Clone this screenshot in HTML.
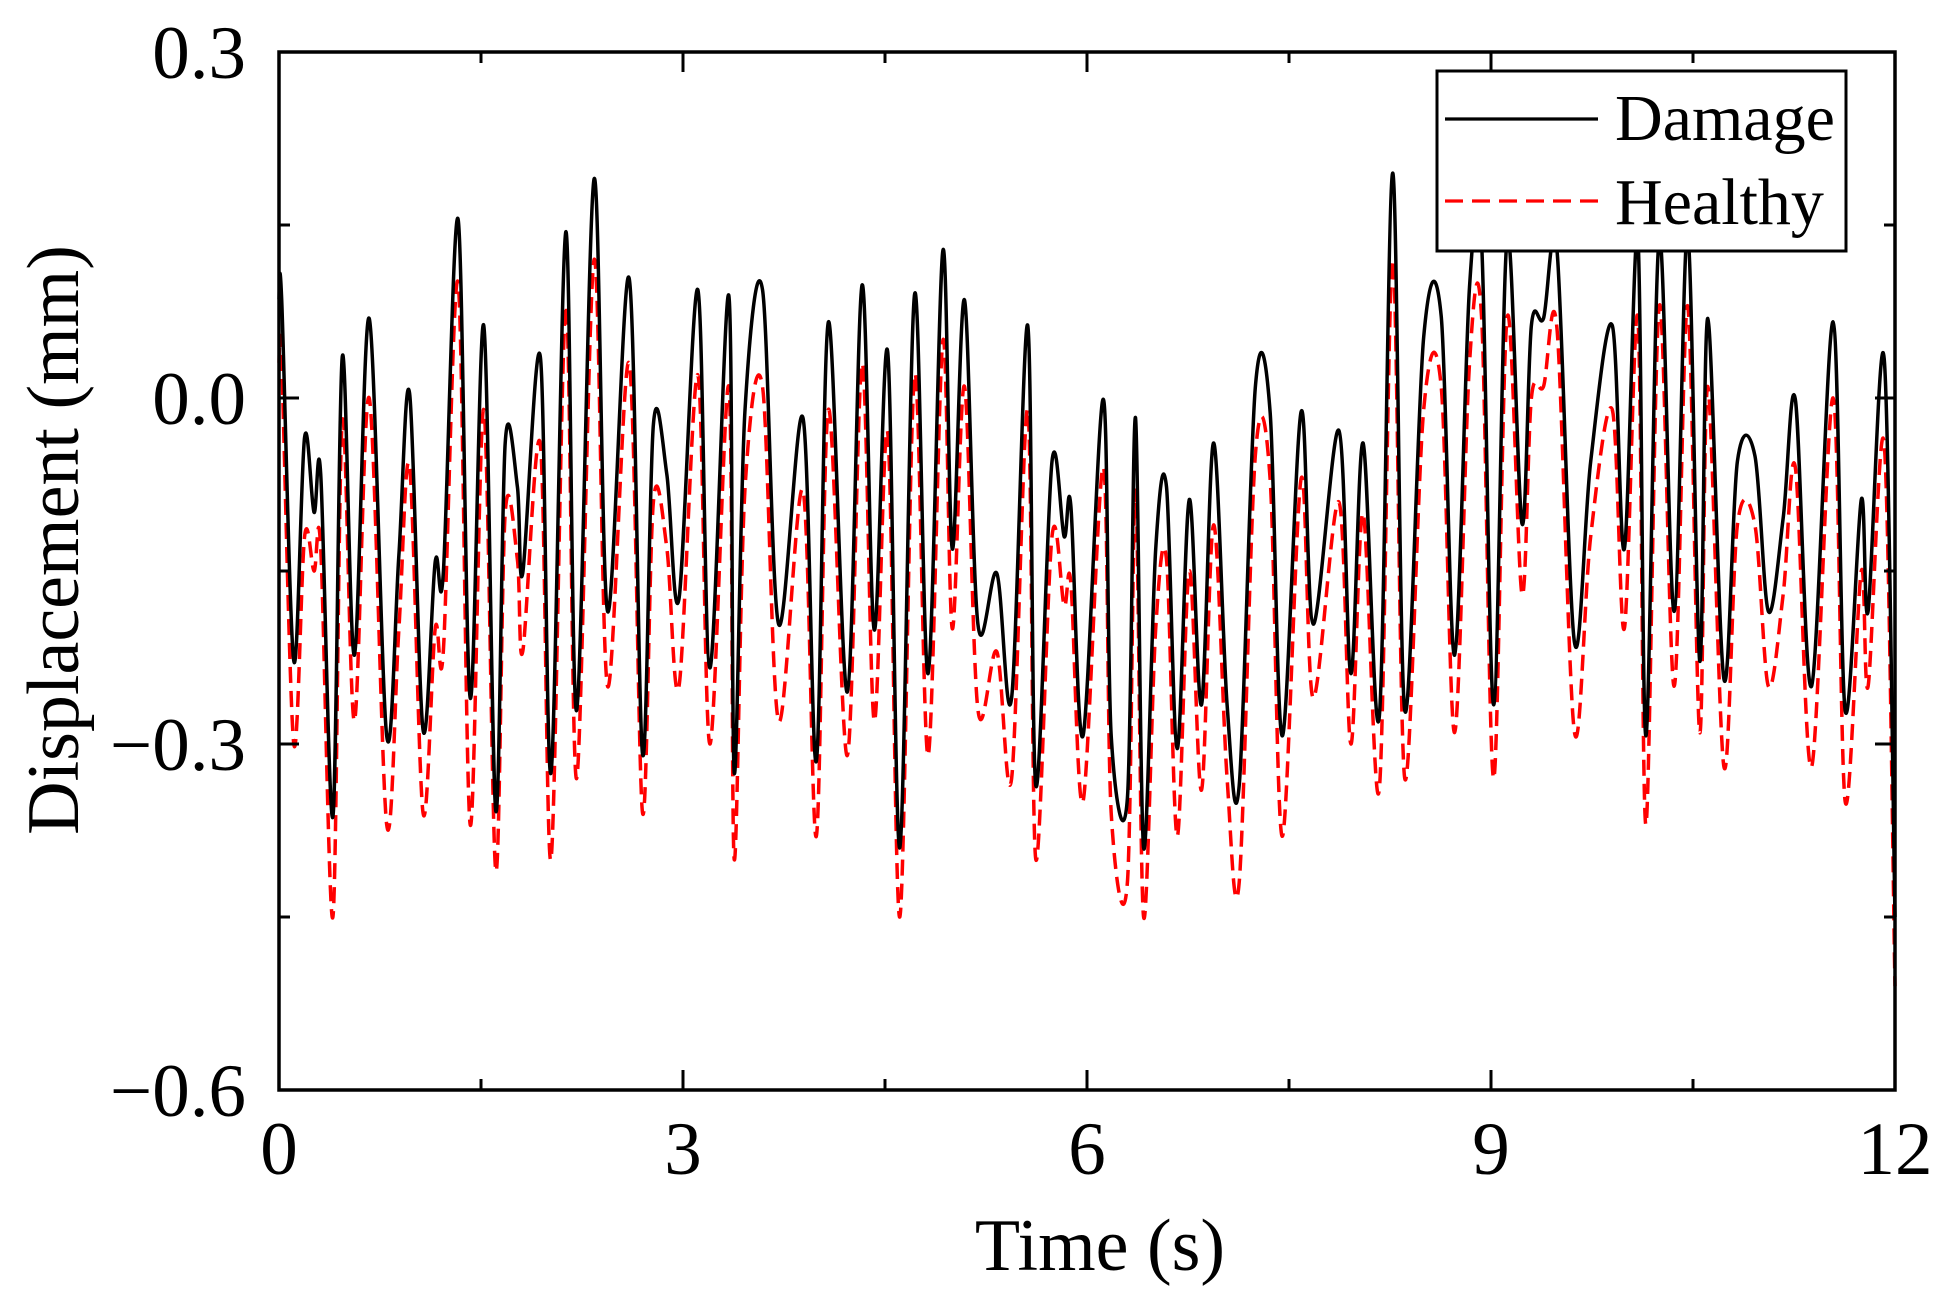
<!DOCTYPE html>
<html><head><meta charset="utf-8"><style>
html,body{margin:0;padding:0;background:#fff;}
svg{display:block;font-family:"Liberation Serif",serif;}
</style></head><body>
<svg id="chart" width="1952" height="1302" viewBox="0 0 1952 1302" xmlns="http://www.w3.org/2000/svg">
<g id="series"></g>
<rect x="279" y="52" width="1616" height="1038" fill="none" stroke="#000" stroke-width="3.5"/>
<g id="axes"></g>
<text x="1100" y="1270" font-size="74" text-anchor="middle">Time (s)</text>
<text transform="translate(78,540) rotate(-90)" font-size="74" text-anchor="middle">Displacement (mm)</text>
<g>
<rect x="1437" y="71" width="409" height="180" fill="#fff" stroke="#000" stroke-width="3"/>
<line x1="1445" y1="119" x2="1598" y2="119" stroke="#000" stroke-width="3.2"/>
<text x="1615" y="140" font-size="66">Damage</text>
<line x1="1445" y1="201" x2="1598" y2="201" stroke="#f00" stroke-width="3.2" stroke-dasharray="18,9"/>
<text x="1615" y="224" font-size="66">Healthy</text>
</g>
</svg>
<script>
const times=[.02,.11,.19,.26,.31,.40,.47,.56,.67,.80,
.89,.97,1.07,1.16,1.22,1.33,1.42,1.52,1.61,1.68,
1.77,1.81,1.94,2.02,2.13,2.21,2.34,2.44,2.60,2.70,
2.78,2.88,2.97,3.11,3.20,3.34,3.38,3.46,3.59,3.71,
3.89,3.99,4.08,4.22,4.33,4.42,4.52,4.61,4.72,4.82,
4.93,5.00,5.09,5.19,5.33,5.44,5.56,5.62,5.74,5.83,
5.88,5.97,6.12,6.18,6.30,6.36,6.42,6.51,6.59,6.67,
6.76,6.85,6.94,7.04,7.13,7.25,7.36,7.45,7.59,7.68,
7.87,7.96,8.05,8.17,8.27,8.36,8.50,8.63,8.73,8.84,
8.93,9.02,9.12,9.23,9.30,9.39,9.49,9.62,9.74,9.90,
9.99,10.09,10.15,10.25,10.36,10.46,10.55,10.61,10.73,10.83,
10.96,11.06,11.17,11.26,11.38,11.54,11.63,11.75,11.80,11.92,
12.0];
const damage=[.085,-.228,-.034,-.099,-.066,-.363,.036,-.223,.069,-.293,
-.136,.004,-.288,-.142,-.152,.155,-.26,.063,-.358,-.039,
-.077,-.152,.036,-.325,.144,-.271,.19,-.185,.104,-.309,
-.023,-.066,-.174,.094,-.234,.089,-.325,-.012,.094,-.196,
-.017,-.315,.066,-.255,.098,-.201,.040,-.39,.09,-.239,
.128,-.131,.085,-.196,-.152,-.26,.063,-.336,-.055,-.12,
-.093,-.293,-.001,-.293,-.347,-.017,-.39,-.131,-.077,-.304,
-.088,-.266,-.039,-.266,-.336,.009,-.012,-.293,-.012,-.196,
-.028,-.239,-.039,-.277,.195,-.271,.053,.071,-.223,.096,
.134,-.266,.139,-.109,.063,.069,.128,-.212,-.055,.063,
-.131,.141,-.293,.139,-.185,.144,-.228,.069,-.244,-.055,
-.05,-.185,-.104,-.001,-.25,.066,-.271,-.088,-.185,.034,
-.45];
const healthy=[.03,-.30,-.12,-.15,-.13,-.45,-.02,-.28,0,-.37,
-.20,-.06,-.36,-.20,-.22,.10,-.37,-.01,-.41,-.10,
-.14,-.22,-.04,-.40,.08,-.33,.12,-.25,.03,-.36,
-.09,-.13,-.25,.02,-.30,.01,-.40,-.08,.01,-.28,
-.08,-.38,-.01,-.31,.03,-.28,-.03,-.45,.02,-.31,
.05,-.20,.01,-.27,-.22,-.33,-.01,-.40,-.12,-.18,
-.16,-.35,-.06,-.36,-.42,-.08,-.45,-.20,-.14,-.38,
-.15,-.34,-.11,-.33,-.42,-.05,-.07,-.38,-.07,-.26,
-.09,-.30,-.10,-.34,.12,-.33,-.01,.01,-.29,.03,
.07,-.33,.07,-.17,0,.01,.06,-.29,-.12,-.01,
-.20,.07,-.37,.08,-.25,.08,-.29,.01,-.32,-.11,
-.11,-.25,-.17,-.06,-.32,0,-.35,-.15,-.25,-.04,
-.51];
const xTicks=[0,3,6,9,12];
const xTickLabels=["0","3","6","9","12"];
const yTicks=[0.3,0,-0.3,-0.6];
const yTickLabels=["0.3","0.0","\u22120.3","\u22120.6"];

const L=279,R=1895,T=52,B=1090;
const xs=t=>L+(t-0)/(12-0)*(R-L);
const ys=v=>T+(0.3-v)/(0.3-(-0.6))*(B-T);
const NS="http://www.w3.org/2000/svg";

function pathFor(vals){
  const p=times.map((t,i)=>[xs(t),ys(vals[i])]);
  p.unshift([xs(0),ys(vals[0])]);
  let d="M"+p[0][0].toFixed(1)+","+p[0][1].toFixed(1);
  for(let i=0;i<p.length-1;i++){
    const p0=p[Math.max(0,i-1)],p1=p[i],p2=p[i+1],p3=p[Math.min(p.length-1,i+2)];
    const c1=[p1[0]+(p2[0]-p0[0])/6,p1[1]+(p2[1]-p0[1])/6];
    const c2=[p2[0]-(p3[0]-p1[0])/6,p2[1]-(p3[1]-p1[1])/6];
    d+=" C"+c1[0].toFixed(1)+","+c1[1].toFixed(1)+" "+c2[0].toFixed(1)+","+c2[1].toFixed(1)+" "+p2[0].toFixed(1)+","+p2[1].toFixed(1);
  }
  return d;
}
const sg=document.getElementById('series');
const hp=document.createElementNS(NS,'path');


hp.setAttribute('d',pathFor(healthy));
hp.setAttribute('fill','none');hp.setAttribute('stroke','#f00');hp.setAttribute('stroke-width','3.5');hp.setAttribute('stroke-dasharray','16,8');
sg.appendChild(hp);
const dp=document.createElementNS(NS,'path');


dp.setAttribute('d',pathFor(damage));
dp.setAttribute('fill','none');dp.setAttribute('stroke','#000');dp.setAttribute('stroke-width','3.5');
sg.appendChild(dp);

const ag=document.getElementById('axes');
function ln(x1,y1,x2,y2,name){
  const l=document.createElementNS(NS,'line');
  
  
  l.setAttribute('x1',x1);l.setAttribute('y1',y1);l.setAttribute('x2',x2);l.setAttribute('y2',y2);
  l.setAttribute('stroke','#000');l.setAttribute('stroke-width','3');
  ag.appendChild(l);
}
function tx(x,y,s,anchor,name){
  const t=document.createElementNS(NS,'text');
  
  
  t.setAttribute('x',x);t.setAttribute('y',y);t.setAttribute('font-size','75');t.setAttribute('text-anchor',anchor);
  t.textContent=s;ag.appendChild(t);
}
xTicks.forEach((v,i)=>{
  const x=xs(v);
  ln(x,B,x,B-20,'x-major-tick');ln(x,T,x,T+20,'x-major-tick-top');
  tx(x,1174,xTickLabels[i],'middle','x-tick-label');
  if(i<xTicks.length-1){const m=xs(v+1.5);ln(m,B,m,B-11,'x-minor-tick');ln(m,T,m,T+11,'x-minor-tick-top');}
});
yTicks.forEach((v,i)=>{
  const y=ys(v);
  ln(L,y,L+20,y,'y-major-tick');ln(R,y,R-20,y,'y-major-tick-right');
  tx(246,y+26,yTickLabels[i],'end','y-tick-label');
  if(i<yTicks.length-1){const m=ys(v-0.15);ln(L,m,L+11,m,'y-minor-tick');ln(R,m,R-11,m,'y-minor-tick-right');}
});
</script>
</body></html>
